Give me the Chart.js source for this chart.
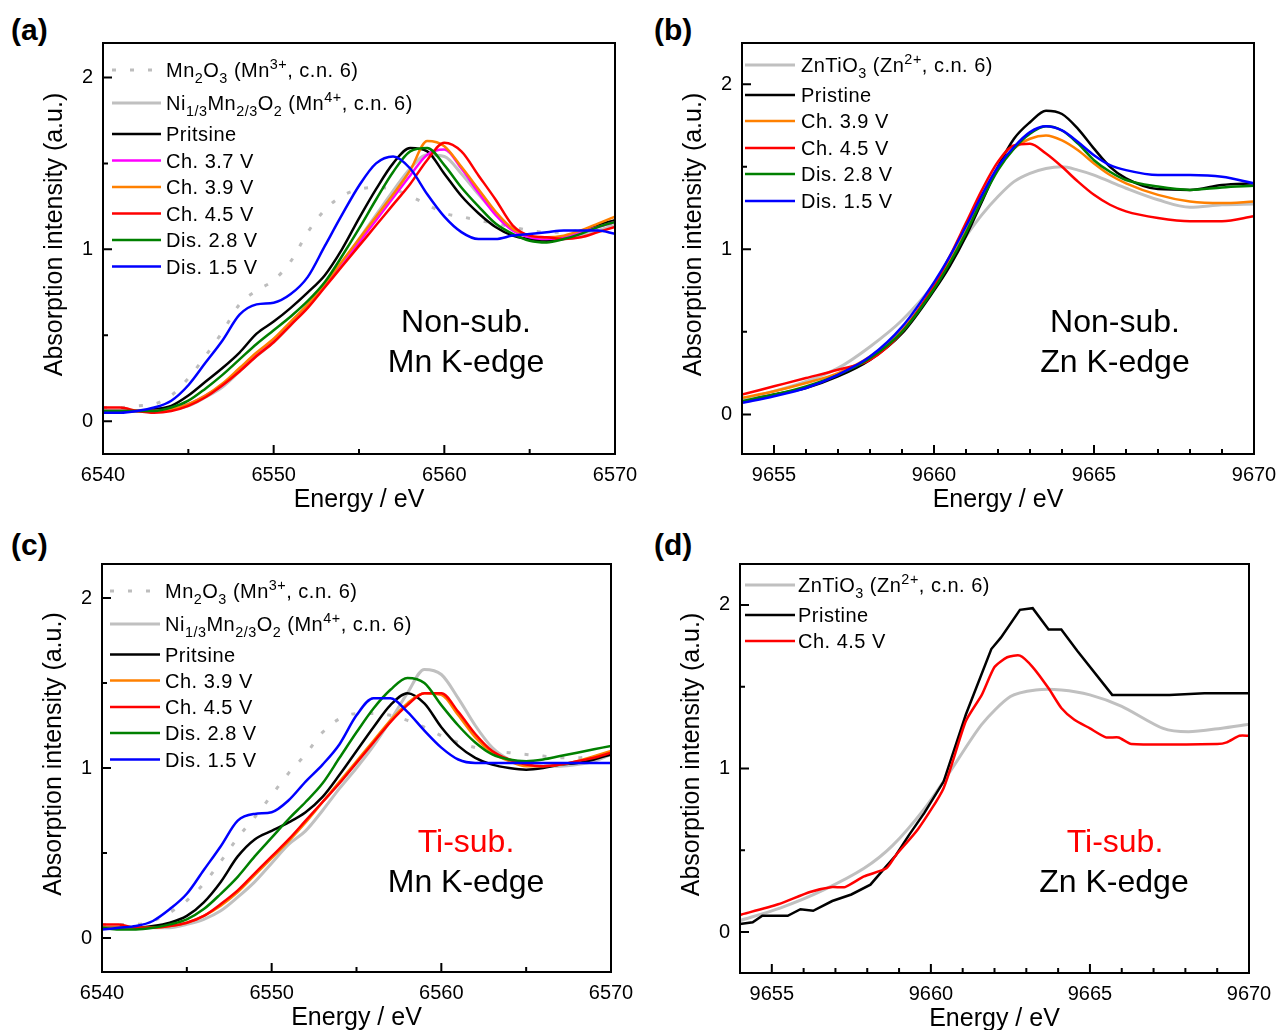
<!DOCTYPE html>
<html>
<head>
<meta charset="utf-8">
<script src="https://cdn.jsdelivr.net/npm/chart.js@4.4.0/dist/chart.umd.min.js"></script>
<style>
body { margin: 0; background: #fff; }
#fig { position: relative; width: 1280px; height: 1030px; overflow: hidden; background: #fff; }
#fig canvas { position: absolute; }
.lbl { position: absolute; font: bold 30px "Liberation Sans", Arial, sans-serif; line-height: 30px; color: #000; }
</style>
</head>
<body>
<div id="fig">
  <div class="lbl" style="left:11px;top:15px">(a)</div>
  <div class="lbl" style="left:654px;top:15px">(b)</div>
  <div class="lbl" style="left:11px;top:530px">(c)</div>
  <div class="lbl" style="left:654px;top:530px">(d)</div>
  <canvas id="ca"></canvas>
  <canvas id="cb"></canvas>
  <canvas id="cc"></canvas>
  <canvas id="cd"></canvas>
</div>
<script>
// tick labels
var ticksMn = [6540, 6550, 6560, 6570];
var minorMn = [6545, 6555, 6565];
var ticksZn = [9655, 9660, 9665, 9670];
var minorZn = [9656, 9657, 9658, 9659, 9661, 9662, 9663, 9664, 9666, 9667, 9668, 9669];
var ticksY = [0, 1, 2];
var minorY = [0.5, 1.5];

// Mn K-edge energies (a), (c)
var energyMn = [6540, 6541, 6542, 6543, 6544, 6545, 6546, 6547, 6548, 6549, 6550,
  6551, 6552, 6553, 6554, 6555, 6556, 6557, 6558, 6559, 6560,
  6561, 6562, 6563, 6564, 6565, 6566, 6567, 6568, 6569, 6570];

// (a) Non-sub. Mn K-edge
var mn2o3A   = [0.08,0.08,0.09,0.10,0.15,0.25,0.38,0.52,0.68,0.76,0.82,0.93,1.10,1.23,1.31,1.35,1.36,1.35,1.31,1.26,1.21,1.19,1.17,1.15,1.13,1.11,1.10,1.10,1.11,1.13,1.15];
var nmoA     = [0.06,0.06,0.06,0.06,0.07,0.09,0.14,0.20,0.29,0.38,0.46,0.56,0.67,0.79,0.92,1.06,1.20,1.34,1.47,1.55,1.54,1.44,1.32,1.21,1.12,1.07,1.05,1.06,1.08,1.11,1.14];
var pristA   = [0.06,0.06,0.06,0.07,0.09,0.15,0.23,0.31,0.40,0.51,0.58,0.66,0.75,0.85,1.00,1.18,1.35,1.50,1.59,1.57,1.44,1.31,1.21,1.13,1.08,1.06,1.05,1.07,1.10,1.14,1.17];
var ch37A    = [0.06,0.06,0.06,0.06,0.07,0.10,0.15,0.21,0.30,0.39,0.47,0.57,0.67,0.79,0.91,1.04,1.17,1.30,1.43,1.55,1.58,1.47,1.33,1.20,1.11,1.07,1.06,1.07,1.10,1.13,1.16];
var ch39A    = [0.06,0.06,0.06,0.06,0.07,0.10,0.15,0.22,0.31,0.40,0.48,0.58,0.68,0.80,0.93,1.06,1.19,1.32,1.46,1.63,1.60,1.48,1.35,1.22,1.12,1.08,1.07,1.08,1.11,1.15,1.19];
var ch45A    = [0.08,0.08,0.06,0.05,0.06,0.09,0.14,0.21,0.29,0.38,0.46,0.56,0.66,0.78,0.90,1.02,1.14,1.26,1.38,1.52,1.62,1.57,1.43,1.29,1.14,1.08,1.07,1.06,1.07,1.10,1.13];
var dis28A   = [0.06,0.06,0.06,0.06,0.08,0.12,0.19,0.27,0.36,0.45,0.53,0.61,0.70,0.81,0.96,1.12,1.29,1.45,1.57,1.59,1.49,1.36,1.25,1.15,1.09,1.05,1.04,1.06,1.09,1.13,1.16];
var dis15A   = [0.05,0.05,0.06,0.08,0.12,0.21,0.34,0.47,0.62,0.68,0.69,0.74,0.84,1.02,1.20,1.37,1.50,1.54,1.47,1.32,1.19,1.10,1.06,1.06,1.08,1.09,1.10,1.11,1.11,1.11,1.09];

// (c) Ti-sub. Mn K-edge
var mn2o3C   = [0.08,0.08,0.08,0.10,0.15,0.22,0.32,0.45,0.59,0.71,0.84,0.97,1.08,1.21,1.29,1.32,1.32,1.31,1.28,1.24,1.19,1.15,1.12,1.10,1.09,1.08,1.07,1.06,1.06,1.07,1.08];
var nmoC     = [0.06,0.06,0.06,0.06,0.06,0.08,0.11,0.16,0.24,0.33,0.44,0.55,0.63,0.75,0.88,1.00,1.13,1.28,1.44,1.58,1.55,1.41,1.25,1.12,1.05,1.02,1.01,1.01,1.02,1.04,1.08];
var pristC   = [0.06,0.06,0.06,0.07,0.09,0.13,0.21,0.33,0.48,0.58,0.63,0.68,0.74,0.83,0.96,1.10,1.24,1.37,1.44,1.38,1.24,1.13,1.06,1.02,1.00,0.99,1.00,1.02,1.03,1.05,1.08];
var ch39C    = [0.06,0.06,0.06,0.06,0.07,0.09,0.13,0.19,0.27,0.37,0.47,0.57,0.68,0.80,0.92,1.04,1.16,1.28,1.38,1.44,1.43,1.31,1.18,1.09,1.04,1.01,1.01,1.02,1.04,1.07,1.10];
var ch45C    = [0.08,0.08,0.06,0.06,0.07,0.09,0.13,0.20,0.28,0.38,0.48,0.58,0.69,0.80,0.91,1.03,1.15,1.27,1.37,1.44,1.44,1.33,1.20,1.10,1.05,1.02,1.01,1.02,1.04,1.06,1.09];
var dis28C   = [0.06,0.05,0.05,0.06,0.08,0.11,0.17,0.26,0.36,0.48,0.59,0.70,0.80,0.91,1.06,1.21,1.35,1.46,1.53,1.50,1.37,1.25,1.15,1.08,1.05,1.04,1.05,1.07,1.09,1.11,1.13];
var dis15C   = [0.05,0.06,0.07,0.10,0.17,0.26,0.40,0.54,0.69,0.73,0.74,0.81,0.92,1.02,1.14,1.31,1.41,1.41,1.33,1.22,1.12,1.05,1.03,1.03,1.03,1.03,1.03,1.03,1.03,1.03,1.03];

// (b) Non-sub. Zn K-edge
var energyZn = [9654, 9655, 9656, 9657, 9658, 9659, 9660, 9660.5, 9661, 9661.5, 9662, 9662.5,
  9663, 9663.5, 9664, 9664.5, 9665, 9665.5, 9666, 9667, 9668, 9669, 9670];
var zntioB   = [0.09,0.14,0.20,0.28,0.41,0.57,0.79,0.94,1.08,1.21,1.32,1.41,1.46,1.49,1.50,1.48,1.45,1.41,1.37,1.30,1.255,1.27,1.275];
var pristB   = [0.075,0.12,0.16,0.23,0.33,0.49,0.75,0.90,1.08,1.29,1.50,1.67,1.77,1.84,1.82,1.73,1.61,1.50,1.43,1.365,1.36,1.39,1.40];
var ch39B    = [0.10,0.14,0.19,0.25,0.35,0.51,0.77,0.93,1.11,1.31,1.49,1.61,1.67,1.69,1.66,1.60,1.52,1.45,1.40,1.33,1.29,1.28,1.29];
var ch45B    = [0.12,0.17,0.22,0.27,0.33,0.50,0.78,0.96,1.16,1.36,1.53,1.63,1.64,1.58,1.50,1.41,1.33,1.27,1.23,1.19,1.17,1.17,1.20];
var dis28B   = [0.08,0.12,0.17,0.24,0.34,0.50,0.76,0.92,1.10,1.30,1.48,1.61,1.70,1.745,1.72,1.64,1.54,1.47,1.42,1.38,1.36,1.375,1.385];
var dis15B   = [0.07,0.11,0.16,0.24,0.35,0.53,0.80,0.96,1.14,1.33,1.50,1.62,1.71,1.745,1.72,1.65,1.57,1.51,1.48,1.45,1.45,1.44,1.40];

// (d) Ti-sub. Zn K-edge
var energyZnD  = [9654, 9655.3, 9656.6, 9657.9, 9658.8, 9659.8, 9660.6, 9661.6, 9662.5, 9663.3, 9664.1, 9665, 9666, 9667.3, 9668.1, 9669.1, 9670];
var zntioD     = [0.07, 0.15, 0.255, 0.39, 0.53, 0.755, 0.98, 1.27, 1.44, 1.48, 1.48, 1.45, 1.38, 1.245, 1.225, 1.245, 1.27];
var energyPrD  = [9654, 9654.4, 9654.7, 9655.5, 9655.9, 9656.3, 9656.9, 9657.5, 9658.1, 9658.5, 9658.9, 9659.3, 9659.8, 9660.4, 9661.1, 9661.9, 9662.2, 9662.8, 9663.2, 9663.7, 9664.1, 9664.6, 9665.7, 9667.5, 9668.6, 9670];
var pristD     = [0.05, 0.06, 0.10, 0.10, 0.14, 0.13, 0.19, 0.23, 0.29, 0.38, 0.47, 0.59, 0.73, 0.92, 1.33, 1.73, 1.80, 1.97, 1.98, 1.85, 1.85, 1.72, 1.45, 1.45, 1.46, 1.46];
var energyChD  = [9654, 9655.2, 9656.2, 9656.9, 9657.3, 9657.9, 9658.6, 9658.9, 9659.6, 9660.4, 9661.1, 9661.6, 9662, 9662.4, 9662.8, 9663.2, 9663.7, 9664.1, 9664.5, 9665, 9665.5, 9665.9, 9666.3, 9669, 9669.3, 9669.7, 9670];
var ch45D      = [0.105, 0.17, 0.245, 0.275, 0.275, 0.34, 0.39, 0.47, 0.63, 0.88, 1.29, 1.45, 1.62, 1.68, 1.69, 1.62, 1.49, 1.37, 1.30, 1.245, 1.19, 1.19, 1.15, 1.15, 1.16, 1.20, 1.20];

var FONT = '"Liberation Sans", Arial, sans-serif';
var GRAY = '#c0c0c0';

function pts(xs, ys) {
  return xs.map(function (x, i) { return { x: x, y: ys[i] }; });
}

function line(label, xs, ys, color, extra) {
  var d = {
    label: label, data: pts(xs, ys), borderColor: color, backgroundColor: color,
    borderWidth: 2.5, pointRadius: 0, cubicInterpolationMode: 'monotone', fill: false
  };
  for (var k in extra) d[k] = extra[k];
  return d;
}

function drawRich(ctx, str, x, y, size) {
  var re = /([_^])\{([^}]*)\}/g, last = 0, m, parts = [];
  while ((m = re.exec(str))) {
    if (m.index > last) parts.push({ t: str.slice(last, m.index), k: '' });
    parts.push({ t: m[2], k: m[1] });
    last = re.lastIndex;
  }
  if (last < str.length) parts.push({ t: str.slice(last), k: '' });
  parts.forEach(function (p) {
    var s = p.k ? size * 0.72 : size;
    ctx.font = s + 'px ' + FONT;
    var dy = p.k === '_' ? size * 0.28 : (p.k === '^' ? -size * 0.4 : 0);
    ctx.fillText(p.t, x, y + dy);
    x += ctx.measureText(p.t).width;
  });
}

// frame, inward ticks, titles, notes and legend
var framePlugin = {
  id: 'frame',
  afterDraw: function (chart, args, o) {
    var ctx = chart.ctx, a = chart.chartArea, sx = chart.scales.x, sy = chart.scales.y;
    ctx.save();
    ctx.strokeStyle = '#000';
    ctx.lineWidth = 2;
    ctx.setLineDash([]);
    ctx.strokeRect(a.left, a.top, a.right - a.left, a.bottom - a.top);
    ctx.beginPath();
    o.xMajor.forEach(function (v) { var p = sx.getPixelForValue(v); ctx.moveTo(p, a.bottom); ctx.lineTo(p, a.bottom - 9); });
    o.xMinor.forEach(function (v) { var p = sx.getPixelForValue(v); ctx.moveTo(p, a.bottom); ctx.lineTo(p, a.bottom - 5); });
    ticksY.forEach(function (v) { var p = sy.getPixelForValue(v); ctx.moveTo(a.left, p); ctx.lineTo(a.left + 9, p); });
    minorY.forEach(function (v) { var p = sy.getPixelForValue(v); ctx.moveTo(a.left, p); ctx.lineTo(a.left + 5, p); });
    ctx.stroke();

    ctx.fillStyle = '#000';
    ctx.font = '25px ' + FONT;
    ctx.textAlign = 'center';
    ctx.textBaseline = 'middle';
    ctx.fillText('Energy / eV', (a.left + a.right) / 2, a.bottom + 46);
    ctx.save();
    ctx.translate(a.left - 48, (a.top + a.bottom) / 2 - 14);
    ctx.rotate(-Math.PI / 2);
    ctx.fillText('Absorption intensity (a.u.)', 0, 0);
    ctx.restore();

    ctx.textBaseline = 'alphabetic';
    ctx.font = '32px ' + FONT;
    o.notes.forEach(function (n) {
      ctx.fillStyle = n.color;
      ctx.fillText(n.text, a.left + n.dx, a.top + n.dy);
    });

    ctx.textAlign = 'left';
    ctx.fillStyle = '#000';
    ctx.letterSpacing = '0.5px';
    chart.data.datasets.forEach(function (ds, i) {
      var yy = a.top + o.rows[i];
      ctx.strokeStyle = ds.borderColor;
      ctx.lineWidth = ds.borderWidth;
      ctx.setLineDash(ds.borderDash || []);
      ctx.beginPath();
      ctx.moveTo(a.left + o.legX[0], yy);
      ctx.lineTo(a.left + o.legX[1], yy);
      ctx.stroke();
      drawRich(ctx, ds.label, a.left + o.legX[2], yy + 7, 20);
    });
    ctx.restore();
  }
};

// y-scale reserves half a label plus tick padding above the top, so the top gap is 22
var PAD_L = 100, PAD_T = 22, PAD_R = 34, PAD_B = 70;

var panels = [
  {
    id: 'ca', box: { x: 103, y: 43, w: 512, h: 411 }, xr: [6540, 6570], yr: [-0.19, 2.2],
    xMajor: ticksMn, xMinor: minorMn,
    rows: [27, 60, 91, 117.5, 144, 170.5, 197, 223.5], legX: [9, 58, 63],
    notes: [{ text: 'Non-sub.', color: '#000', dx: 363, dy: 289 }, { text: 'Mn K-edge', color: '#000', dx: 363, dy: 329 }],
    datasets: [
      line('Mn_{2}O_{3} (Mn^{3+}, c.n. 6)', energyMn, mn2o3A, '#bdbdbd', { borderDash: [4, 14], borderWidth: 3 }),
      line('Ni_{1/3}Mn_{2/3}O_{2} (Mn^{4+}, c.n. 6)', energyMn, nmoA, GRAY, { borderWidth: 3 }),
      line('Pritsine', energyMn, pristA, '#000000'),
      line('Ch. 3.7 V', energyMn, ch37A, '#ff00ff'),
      line('Ch. 3.9 V', energyMn, ch39A, '#ff8000'),
      line('Ch. 4.5 V', energyMn, ch45A, '#ff0000'),
      line('Dis. 2.8 V', energyMn, dis28A, '#008000'),
      line('Dis. 1.5 V', energyMn, dis15A, '#0000ff')
    ]
  },
  {
    id: 'cb', box: { x: 742, y: 43, w: 512, h: 411 }, xr: [9654, 9670], yr: [-0.24, 2.25],
    xMajor: ticksZn, xMinor: minorZn,
    rows: [22, 52, 78, 105, 131, 158], legX: [3, 53, 59],
    notes: [{ text: 'Non-sub.', color: '#000', dx: 373, dy: 289 }, { text: 'Zn K-edge', color: '#000', dx: 373, dy: 329 }],
    datasets: [
      line('ZnTiO_{3} (Zn^{2+}, c.n. 6)', energyZn, zntioB, GRAY, { borderWidth: 3 }),
      line('Pristine', energyZn, pristB, '#000000'),
      line('Ch. 3.9 V', energyZn, ch39B, '#ff8000'),
      line('Ch. 4.5 V', energyZn, ch45B, '#ff0000'),
      line('Dis. 2.8 V', energyZn, dis28B, '#008000'),
      line('Dis. 1.5 V', energyZn, dis15B, '#0000ff')
    ]
  },
  {
    id: 'cc', box: { x: 102, y: 564, w: 509, h: 408 }, xr: [6540, 6570], yr: [-0.2, 2.2],
    xMajor: ticksMn, xMinor: minorMn,
    rows: [27, 60, 90.5, 116.5, 143, 169, 195.5], legX: [8, 58, 63],
    notes: [{ text: 'Ti-sub.', color: '#ff0000', dx: 364, dy: 288 }, { text: 'Mn K-edge', color: '#000', dx: 364, dy: 328 }],
    datasets: [
      line('Mn_{2}O_{3} (Mn^{3+}, c.n. 6)', energyMn, mn2o3C, '#bdbdbd', { borderDash: [4, 14], borderWidth: 3 }),
      line('Ni_{1/3}Mn_{2/3}O_{2} (Mn^{4+}, c.n. 6)', energyMn, nmoC, GRAY, { borderWidth: 3 }),
      line('Pritsine', energyMn, pristC, '#000000'),
      line('Ch. 3.9 V', energyMn, ch39C, '#ff8000'),
      line('Ch. 4.5 V', energyMn, ch45C, '#ff0000'),
      line('Dis. 2.8 V', energyMn, dis28C, '#008000'),
      line('Dis. 1.5 V', energyMn, dis15C, '#0000ff')
    ]
  },
  {
    id: 'cd', box: { x: 740, y: 564, w: 509, h: 409 }, xr: [9654, 9670], yr: [-0.25, 2.25],
    xMajor: ticksZn, xMinor: minorZn,
    rows: [21, 51, 77], legX: [5, 55, 58],
    notes: [{ text: 'Ti-sub.', color: '#ff0000', dx: 375, dy: 288 }, { text: 'Zn K-edge', color: '#000', dx: 374, dy: 328 }],
    datasets: [
      line('ZnTiO_{3} (Zn^{2+}, c.n. 6)', energyZnD, zntioD, GRAY, { borderWidth: 3, cubicInterpolationMode: 'default', tension: 0.25 }),
      line('Pristine', energyPrD, pristD, '#000000', { cubicInterpolationMode: 'default', tension: 0 }),
      line('Ch. 4.5 V', energyChD, ch45D, '#ff0000', { cubicInterpolationMode: 'default', tension: 0.2 })
    ]
  }
];

panels.forEach(function (p) {
  var cv = document.getElementById(p.id);
  var W = p.box.w + PAD_L + PAD_R, H = p.box.h + PAD_T + PAD_B;
  cv.width = W; cv.height = H;
  cv.style.width = W + 'px'; cv.style.height = H + 'px';
  cv.style.left = (p.box.x - PAD_L) + 'px';
  cv.style.top = (p.box.y - PAD_T) + 'px';
  var n = p.datasets.length;
  p.datasets.forEach(function (d, i) { d.order = n - i; });

  new Chart(cv, {
    type: 'line',
    data: { datasets: p.datasets },
    options: {
      responsive: false,
      animation: false,
      devicePixelRatio: 1,
      layout: { padding: { top: PAD_T, right: PAD_R, left: 0, bottom: 0 } },
      plugins: {
        legend: { display: false },
        tooltip: { enabled: false },
        frame: { xMajor: p.xMajor, xMinor: p.xMinor, rows: p.rows, legX: p.legX, notes: p.notes }
      },
      scales: {
        x: {
          type: 'linear', min: p.xr[0], max: p.xr[1],
          afterBuildTicks: function (s) { s.ticks = p.xMajor.map(function (v) { return { value: v }; }); },
          afterFit: function (s) { s.height = PAD_B; },
          grid: { display: false, drawTicks: false },
          border: { display: false },
          ticks: { color: '#000', font: { family: FONT, size: 20 }, padding: 9, maxRotation: 0, autoSkip: false,
            callback: function (v) { return String(v); } }
        },
        y: {
          type: 'linear', min: p.yr[0], max: p.yr[1],
          afterBuildTicks: function (s) { s.ticks = ticksY.map(function (v) { return { value: v }; }); },
          afterFit: function (s) { s.width = PAD_L; },
          grid: { display: false, drawTicks: false },
          border: { display: false },
          ticks: { color: '#000', font: { family: FONT, size: 20 }, padding: 10,
            callback: function (v) { return String(v); } }
        }
      }
    },
    plugins: [framePlugin]
  });
});
</script>
</body>
</html>
